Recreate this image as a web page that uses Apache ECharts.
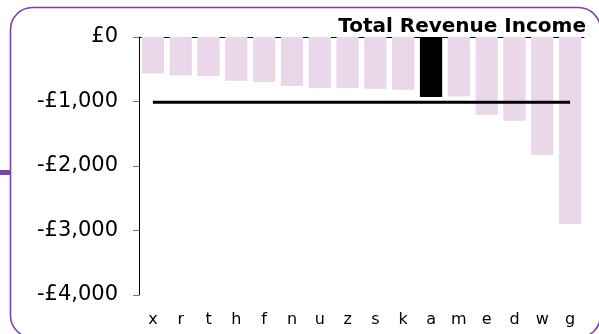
<!DOCTYPE html>
<html>
<head>
<meta charset="utf-8">
<script src="https://cdn.jsdelivr.net/npm/echarts@6/dist/echarts.min.js"></script>
<style>
  html, body { margin: 0; padding: 0; background: #fff; }
  #chart { width: 599px; height: 334px; }
</style>
</head>
<body>
<div id="chart"></div>
<script>
// Revenue income per unit (negative = net cost)
const categories = ['x', 'r', 't', 'h', 'f', 'n', 'u', 'z', 's', 'k', 'a', 'm', 'e', 'd', 'w', 'g'];
const incomeValues = [-565, -596, -606, -679, -699, -758, -792, -792, -803, -818, -932, -922, -1207, -1300, -1828, -2900];
const highlightCategory = 'a';
const yTicks = { min: -4000, max: 0, interval: 1000 };
const chartTitle = 'Total Revenue Income';

// Mean of all units, drawn as a flat reference line
const meanIncome = incomeValues.reduce((s, v) => s + v, 0) / incomeValues.length;
const meanLine = categories.map(() => meanIncome);

const FONT = 'DejaVu Sans';
const BAR_COLOR = '#ead7ea';
const HIGHLIGHT_COLOR = '#000000';
const FRAME_COLOR = '#7b40b4';

const chart = echarts.init(document.getElementById('chart'), null, { renderer: 'canvas' });

const formatPounds = v => {
  if (v === 0) return '£0';
  const abs = Math.abs(v).toLocaleString('en-GB');
  return (v < 0 ? '-' : '') + '£' + abs;
};

chart.setOption({
  animation: false,
  backgroundColor: '#ffffff',
  graphic: [
    {
      type: 'rect',
      silent: true,
      shape: { x: 10.5, y: 7.5, width: 590, height: 330, r: 22 },
      style: { fill: 'none', stroke: FRAME_COLOR, lineWidth: 1.6 }
    },
    {
      type: 'rect',
      silent: true,
      shape: { x: 0, y: 170, width: 10, height: 5 },
      style: { fill: FRAME_COLOR }
    },
    {
      type: 'text',
      silent: true,
      z: 10,
      style: {
        text: chartTitle,
        x: 586,
        y: 37,
        align: 'right',
        verticalAlign: 'bottom',
        font: 'bold 20px "' + FONT + '"',
        fill: '#000'
      }
    }
  ],
  grid: { left: 139, right: 15, top: 37, bottom: 39, containLabel: false },
  xAxis: [
    {
      type: 'category',
      data: categories,
      position: 'bottom',
      axisLine: { show: false, onZero: false },
      axisTick: { show: false },
      axisLabel: { fontFamily: FONT, fontSize: 16, color: '#000', margin: 17, interval: 0 }
    },
    {
      type: 'category',
      data: categories,
      position: 'top',
      axisLine: { show: true, onZero: false, lineStyle: { color: '#000', width: 1 } },
      axisTick: { show: false },
      axisLabel: { show: false }
    }
  ],
  yAxis: {
    type: 'value',
    min: yTicks.min,
    max: yTicks.max,
    interval: yTicks.interval,
    axisLine: { show: true, lineStyle: { color: '#000', width: 1 } },
    axisTick: { show: true, length: 6, lineStyle: { color: '#777' } },
    splitLine: { show: false },
    axisLabel: {
      fontFamily: FONT,
      fontSize: 21,
      color: '#000',
      margin: 21,
      formatter: formatPounds
    }
  },
  series: [
    {
      type: 'bar',
      name: chartTitle,
      barWidth: '80%',
      data: incomeValues.map((v, i) => ({
        value: v,
        itemStyle: { color: categories[i] === highlightCategory ? HIGHLIGHT_COLOR : BAR_COLOR }
      }))
    },
    {
      type: 'line',
      name: 'Average',
      data: meanLine,
      symbol: 'none',
      z: 5,
      lineStyle: { color: '#000', width: 3 }
    }
  ]
});
</script>
</body>
</html>
